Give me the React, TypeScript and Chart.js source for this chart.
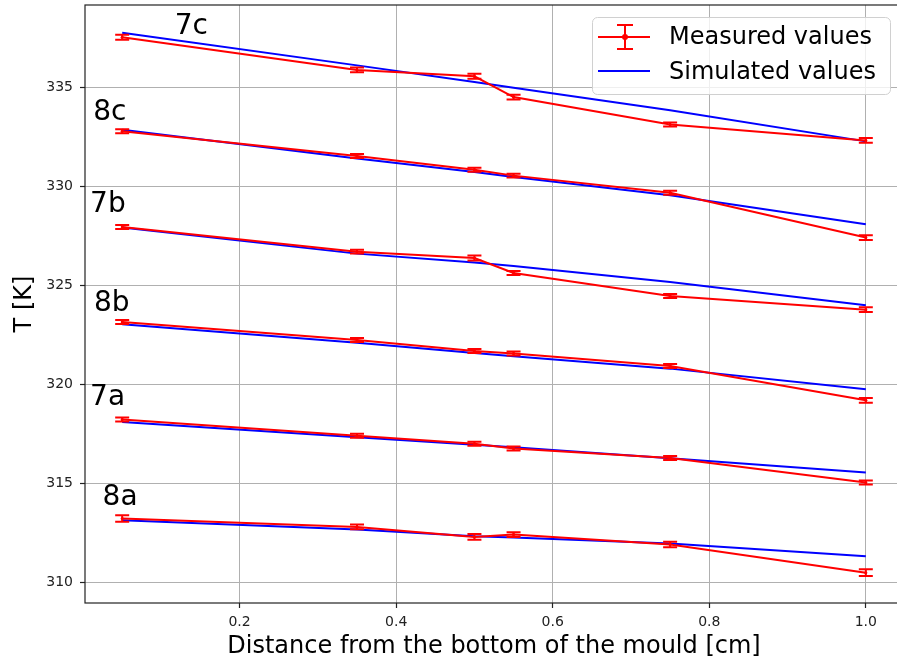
import React, { useEffect, useRef } from "react";
import { Chart, registerables } from "chart.js";

Chart.register(...registerables);

// ---- data ----
const xValues = [0.05, 0.35, 0.5, 0.55, 0.75, 1.0];

const measured7c = [337.53, 335.88, 335.56, 334.51, 333.12, 332.32];
const measured8c = [332.78, 331.53, 330.84, 330.54, 329.68, 327.41];
const measured7b = [327.94, 326.7, 326.38, 325.62, 324.46, 323.77];
const measured8b = [323.15, 322.24, 321.68, 321.55, 320.92, 319.19];
const measured7a = [318.22, 317.4, 317.0, 316.76, 316.28, 315.04];
const measured8a = [313.22, 312.79, 312.29, 312.41, 311.91, 310.48];

const error7c = [0.13, 0.12, 0.13, 0.12, 0.1, 0.12];
const error8c = [0.1, 0.1, 0.1, 0.1, 0.1, 0.12];
const error7b = [0.1, 0.1, 0.13, 0.1, 0.1, 0.12];
const error8b = [0.1, 0.1, 0.1, 0.1, 0.1, 0.12];
const error7a = [0.1, 0.1, 0.1, 0.1, 0.1, 0.1];
const error8a = [0.16, 0.12, 0.14, 0.12, 0.14, 0.17];

const simulated7c = [337.76, 336.11, 335.27, 334.98, 333.84, 332.27];
const simulated8c = [332.86, 331.4, 330.72, 330.47, 329.55, 328.08];
const simulated7b = [327.92, 326.6, 326.15, 325.97, 325.17, 323.99];
const simulated8b = [323.03, 322.1, 321.58, 321.41, 320.79, 319.75];
const simulated7a = [318.1, 317.32, 316.94, 316.82, 316.26, 315.54];
const simulated8a = [313.13, 312.66, 312.32, 312.26, 311.96, 311.31];

const seriesNames = ["7c", "8c", "7b", "8b", "7a", "8a"];
const measuredList = [measured7c, measured8c, measured7b, measured8b, measured7a, measured8a];
const errorList = [error7c, error8c, error7b, error8b, error7a, error8a];
const simulatedList = [simulated7c, simulated8c, simulated7b, simulated8b, simulated7a, simulated8a];

// annotation anchors (data coordinates, left/baseline)
const labelX = [0.117, 0.013, 0.009, 0.014, 0.009, 0.025];
const labelY = [337.71, 333.37, 328.69, 323.7, 318.94, 313.89];

const xTicks = [0.2, 0.4, 0.6, 0.8, 1.0];
const yTicks = [310, 315, 320, 325, 330, 335];
const xMin = 0.0025;
const xMax = 1.0475;
const yMin = 308.95;
const yMax = 339.16;

const legendLabels = ["Measured values", "Simulated values"];
const xTitle = "Distance from the bottom of the mould [cm]";
const yTitle = "T [K]";

const RED = "#ff0000";
const BLUE = "#0000ff";
const FONT = "'DejaVu Sans', 'Liberation Sans', sans-serif";

const zeroPadding = (s: any) => {
  s.paddingTop = 0;
  s.paddingBottom = 0;
  s.paddingLeft = 0;
  s.paddingRight = 0;
};

const overlayPlugin = {
  id: "overlay",
  afterDatasetsDraw(chart: any) {
    const ctx = chart.ctx;
    const xs = chart.scales.x;
    const ys = chart.scales.y;
    const area = chart.chartArea;
    ctx.save();
    ctx.beginPath();
    ctx.rect(area.left, area.top, area.right - area.left, area.bottom - area.top);
    ctx.clip();
    ctx.strokeStyle = RED;
    ctx.lineWidth = 2;
    measuredList.forEach((vals, si) => {
      const errs = errorList[si];
      vals.forEach((v, i) => {
        const px = xs.getPixelForValue(xValues[i]);
        const top = ys.getPixelForValue(v + errs[i]);
        const bot = ys.getPixelForValue(v - errs[i]);
        ctx.beginPath();
        ctx.moveTo(px, top);
        ctx.lineTo(px, bot);
        ctx.moveTo(px - 7, top);
        ctx.lineTo(px + 7, top);
        ctx.moveTo(px - 7, bot);
        ctx.lineTo(px + 7, bot);
        ctx.stroke();
      });
    });
    ctx.restore();

    // series labels
    ctx.save();
    ctx.fillStyle = "#000";
    ctx.font = `28px ${FONT}`;
    ctx.textAlign = "left";
    ctx.textBaseline = "alphabetic";
    seriesNames.forEach((name, i) => {
      ctx.fillText(name, xs.getPixelForValue(labelX[i]), ys.getPixelForValue(labelY[i]));
    });
    ctx.restore();
  },
  afterDraw(chart: any) {
    const ctx = chart.ctx;
    const area = chart.chartArea;
    ctx.save();
    // frame
    ctx.strokeStyle = "#222";
    ctx.lineWidth = 1.2;
    ctx.strokeRect(area.left, area.top, area.right - area.left, area.bottom - area.top);

    // axis titles
    ctx.fillStyle = "#000";
    ctx.font = `24px ${FONT}`;
    ctx.textAlign = "center";
    ctx.textBaseline = "middle";
    ctx.fillText(xTitle, (area.left + area.right) / 2, 647);
    ctx.save();
    ctx.translate(25, (area.top + area.bottom) / 2);
    ctx.rotate(-Math.PI / 2);
    ctx.fillText(yTitle, 0, 0);
    ctx.restore();

    // legend
    const lx = 592, ly = 17, lw = 298, lh = 77;
    ctx.beginPath();
    ctx.roundRect(lx + 0.5, ly + 0.5, lw, lh, 5);
    ctx.fillStyle = "rgba(255,255,255,0.8)";
    ctx.fill();
    ctx.strokeStyle = "#d0d0d0";
    ctx.lineWidth = 1;
    ctx.stroke();

    ctx.strokeStyle = RED;
    ctx.lineWidth = 2;
    ctx.beginPath();
    ctx.moveTo(598, 37);
    ctx.lineTo(650, 37);
    ctx.moveTo(625, 25);
    ctx.lineTo(625, 49);
    ctx.moveTo(617, 25);
    ctx.lineTo(633, 25);
    ctx.moveTo(617, 49);
    ctx.lineTo(633, 49);
    ctx.stroke();
    ctx.fillStyle = RED;
    ctx.beginPath();
    ctx.arc(625, 37, 3, 0, Math.PI * 2);
    ctx.fill();

    ctx.strokeStyle = BLUE;
    ctx.beginPath();
    ctx.moveTo(598, 71);
    ctx.lineTo(650, 71);
    ctx.stroke();

    ctx.fillStyle = "#000";
    ctx.font = `24px ${FONT}`;
    ctx.textAlign = "left";
    ctx.textBaseline = "middle";
    ctx.fillText(legendLabels[0], 669, 38);
    ctx.fillText(legendLabels[1], 669, 73);
    ctx.restore();
  },
};

export default function App() {
  const canvasRef = useRef<HTMLCanvasElement | null>(null);

  useEffect(() => {
    document.body.style.margin = "0";
    const canvas = canvasRef.current;
    if (!canvas) return;

    const datasets: any[] = [];
    measuredList.forEach((vals, i) => {
      datasets.push({
        label: `Measured ${seriesNames[i]}`,
        data: xValues.map((x, j) => ({ x, y: vals[j] })),
        borderColor: RED,
        backgroundColor: RED,
        borderWidth: 2,
        pointRadius: 1.5,
        pointBorderWidth: 0,
        tension: 0,
        fill: false,
        order: 0,
      });
    });
    simulatedList.forEach((vals, i) => {
      datasets.push({
        label: `Simulated ${seriesNames[i]}`,
        data: xValues.map((x, j) => ({ x, y: vals[j] })),
        borderColor: BLUE,
        backgroundColor: BLUE,
        borderWidth: 2,
        pointRadius: 0,
        tension: 0,
        fill: false,
        order: 1,
      });
    });

    const chart = new Chart(canvas, {
      type: "line",
      data: { datasets },
      options: {
        responsive: false,
        maintainAspectRatio: false,
        devicePixelRatio: 1,
        animation: false,
        layout: { padding: { left: 0, top: 5, right: 7, bottom: 0 } },
        plugins: {
          legend: { display: false },
          tooltip: { enabled: false },
        },
        scales: {
          x: {
            type: "linear",
            min: xMin,
            max: xMax,
            afterBuildTicks: (s: any) => {
              s.ticks = xTicks.map((v) => ({ value: v }));
            },
            afterFit: (s: any) => {
              s.height = 61;
              zeroPadding(s);
            },
            ticks: {
              autoSkip: false,
              maxRotation: 0,
              padding: 6,
              color: "#222",
              font: { family: FONT, size: 14 },
              callback: (v: any) => Number(v).toFixed(1),
            },
            grid: {
              color: "#b0b0b0",
              lineWidth: 1,
              drawTicks: true,
              tickLength: 5,
              tickColor: "#222",
              tickWidth: 1.2,
            },
            border: { display: false },
          },
          y: {
            type: "linear",
            min: yMin,
            max: yMax,
            afterBuildTicks: (s: any) => {
              s.ticks = yTicks.map((v) => ({ value: v }));
            },
            afterFit: (s: any) => {
              s.width = 85;
              zeroPadding(s);
            },
            ticks: {
              autoSkip: false,
              padding: 7,
              color: "#222",
              font: { family: FONT, size: 14 },
              callback: (v: any) => String(v),
            },
            grid: {
              color: "#b0b0b0",
              lineWidth: 1,
              drawTicks: true,
              tickLength: 5,
              tickColor: "#222",
              tickWidth: 1.2,
            },
            border: { display: false },
          },
        },
      },
      plugins: [overlayPlugin],
    });

    return () => {
      chart.destroy();
    };
  }, []);

  return (
    <div
      style={{
        position: "fixed",
        left: 0,
        top: 0,
        width: 897,
        height: 664,
        overflow: "hidden",
        background: "#fff",
      }}
    >
      <canvas ref={canvasRef} width={910} height={664} style={{ display: "block" }} />
    </div>
  );
}
